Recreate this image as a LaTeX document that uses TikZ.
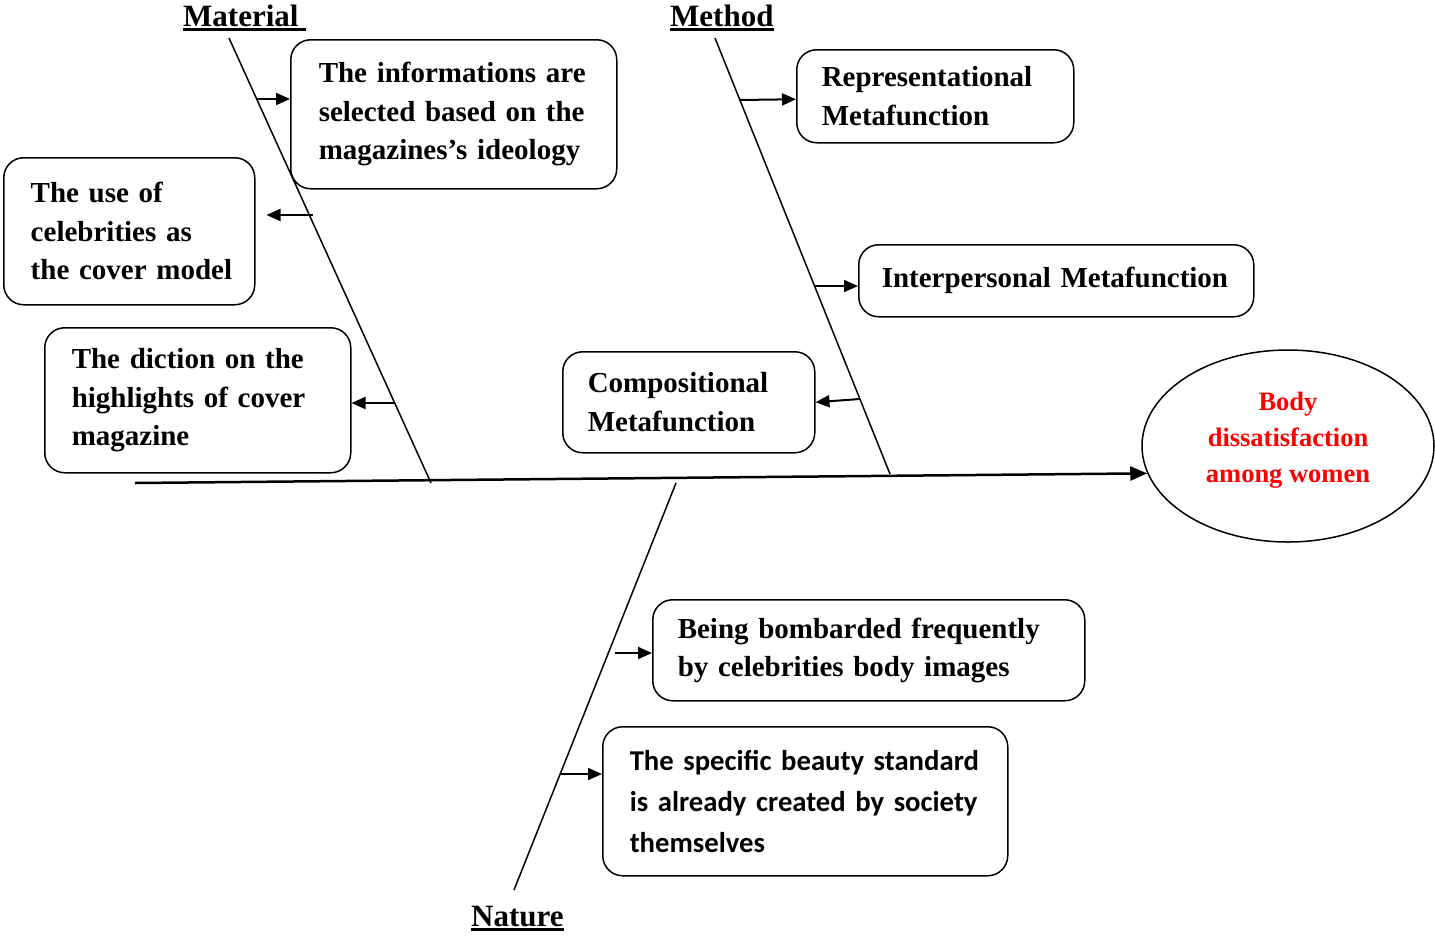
\documentclass[tikz,border=0pt]{standalone}
\usepackage{fontspec}
\setmainfont{Liberation Serif}
\newfontfamily\calib{Carlito}
\usetikzlibrary{arrows.meta,shapes.geometric,calc}
\newcommand\myul[1]{\setbox0\hbox{#1}\rlap{\rule[-5pt]{\wd0}{2.6pt}}\box0}
\tikzset{
  box/.style={draw, line width=1.5pt, rounded corners=20pt, anchor=north west,
    align=left, inner xsep=0pt, inner ysep=0pt,
    font=\bfseries\fontsize{29}{38.5}\selectfont},
  bone/.style={line width=1.5pt},
  spine/.style={line width=2.5pt, -{Triangle[length=17pt,width=14pt]}},
  arr/.style={line width=2pt, -{Triangle[length=14pt,width=12pt]}},
  lbl/.style={anchor=base west, inner sep=0pt, font=\bfseries\fontsize{31}{36}\selectfont}
}
\begin{document}
\begin{tikzpicture}[x=1pt,y=-1pt]
\useasboundingbox (0,0) rectangle (1435,935);
% labels
\node[lbl] (lmat) at (183,26) {\myul{Material\ }};
\node[lbl] (lmet) at (670,26) {\myul{Method}};
\node[lbl] (lnat) at (471,926) {\myul{Nature}};
% bones
\coordinate (m1) at (229,38);  \coordinate (m2) at (431,483);
\coordinate (t1) at (715,38);  \coordinate (t2) at (890,474);
\coordinate (n1) at (676,483); \coordinate (n2) at (514,890);
\coordinate (tail) at (135,483);
% effect
\node[draw, ellipse, line width=1.5pt, minimum width=292pt, minimum height=192pt,
  align=center, text=red, font=\bfseries\fontsize{26.5}{36}\selectfont] (ell) at (1288,446)
  {Body\\dissatisfaction\\among women\rule[-17pt]{0pt}{0pt}};
\draw[spine] (tail) -- (ell.191);
\draw[bone] (m1) -- (m2);
\draw[bone] (t1) -- (t2);
\draw[bone] (n1) -- (n2);
% boxes
\node[box, text width=326pt, minimum height=149pt] (b1) at (290,39)
  {\leftskip=28pt The informations are\\selected based on the\\magazines's ideology\par};
\node[box, text width=251pt, minimum height=147pt] (b2) at (3,157)
  {\leftskip=27pt The use of\\celebrities as\\the cover model\par};
\node[box, text width=306pt, minimum height=145pt] (b3) at (44,327)
  {\leftskip=27pt The diction on the\\highlights of cover\\magazine\par};
\node[box, text width=277pt, minimum height=93pt] (b4) at (796,49)
  {\leftskip=25pt Representational\\Metafunction\par};
\node[box, text width=395pt, minimum height=72pt] (b5) at (858,244)
  {\leftskip=23pt Interpersonal Metafunction\par};
\node[box, text width=252pt, minimum height=101pt] (b6) at (562,351)
  {\leftskip=25pt Compositional\\Metafunction\par};
\node[box, text width=432pt, minimum height=101pt] (b7) at (652,599)
  {\leftskip=25pt Being bombarded frequently\\by celebrities body images\par};
\node[box, text width=405pt, minimum height=149pt, font=\calib\bfseries\fontsize{28.7}{41}\selectfont] (b8) at (602,726)
  {\leftskip=27pt The specific beauty standard\\is already created by society\\themselves\par};
% arrow origins
\coordinate (p1) at (257,99);
\coordinate (p2) at (313,215);
\coordinate (p3) at (395,403);
\coordinate (q1) at (739,100);
\coordinate (q2) at (814,286);
\coordinate (q3) at (860,399);
\coordinate (r1) at (615,653);
\coordinate (r2) at (560,774);
\draw[arr] (p1) -- (p1 -| b1.west);
\draw[arr, shorten >=11pt] (p2) -- (p2 -| b2.east);
\draw[arr] (p3) -- (p3 -| b3.east);
\draw[arr] (q1) -- ($(b4.west)+(0,3)$);
\draw[arr] (q2) -- (q2 -| b5.west);
\draw[arr] (q3) -- (b6.east);
\draw[arr] (r1) -- (r1 -| b7.west);
\draw[arr] (r2) -- (r2 -| b8.west);
\end{tikzpicture}
\end{document}
